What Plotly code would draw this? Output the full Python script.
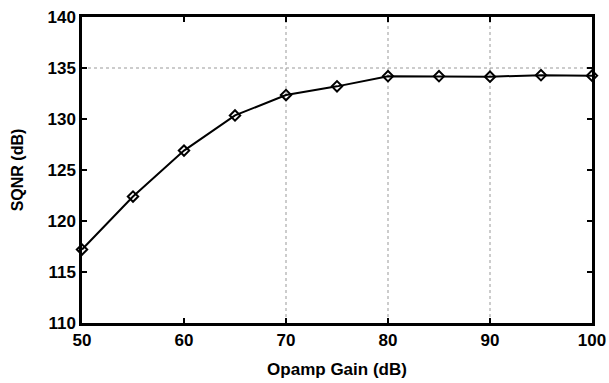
import plotly.graph_objects as go

# Opamp gain sweep and resulting SQNR
gain_db = [50, 55, 60, 65, 70, 75, 80, 85, 90, 95, 100]
sqnr_db = [117.2, 122.4, 126.9, 130.35, 132.35, 133.2, 134.2, 134.2, 134.15, 134.3, 134.25]

x_ticks = [50, 60, 70, 80, 90, 100]
y_ticks = [110, 115, 120, 125, 130, 135, 140]
x_grid = [70, 80, 90]
y_grid = [135]

FONT = "Liberation Sans, Arial, sans-serif"

fig = go.Figure()
fig.add_trace(go.Scatter(
    x=gain_db, y=sqnr_db, mode="lines+markers",
    line=dict(color="black", width=2),
    marker=dict(symbol="diamond-open", size=8, color="black", line=dict(width=2)),
    showlegend=False, cliponaxis=False,
))

for gx in x_grid:
    fig.add_vline(x=gx, line=dict(color="#999999", width=1, dash="dot"), layer="below")
for gy in y_grid:
    fig.add_hline(y=gy, line=dict(color="#999999", width=1, dash="dot"), layer="below")

axis_common = dict(
    showline=True, linecolor="black", linewidth=2.5, mirror="ticks",
    ticks="inside", ticklen=5, tickwidth=2, tickcolor="black",
    showgrid=False, zeroline=False, automargin=False,
    tickfont=dict(family=FONT, size=17, color="black", weight="bold"),
)

fig.update_xaxes(
    range=[50, 100], tickvals=x_ticks,
    title=dict(text="Opamp Gain (dB)", font=dict(family=FONT, size=17, color="black", weight="bold"), standoff=14),
    **axis_common,
)
fig.update_yaxes(
    range=[110, 140], tickvals=y_ticks,
    title=dict(text="SQNR (dB)", font=dict(family=FONT, size=16, color="black", weight="bold"), standoff=20),
    **axis_common,
)

fig.update_layout(
    width=609, height=383,
    margin=dict(l=82, r=17, t=17, b=60),
    plot_bgcolor="white", paper_bgcolor="white",
)

fig.write_html("out.html")
